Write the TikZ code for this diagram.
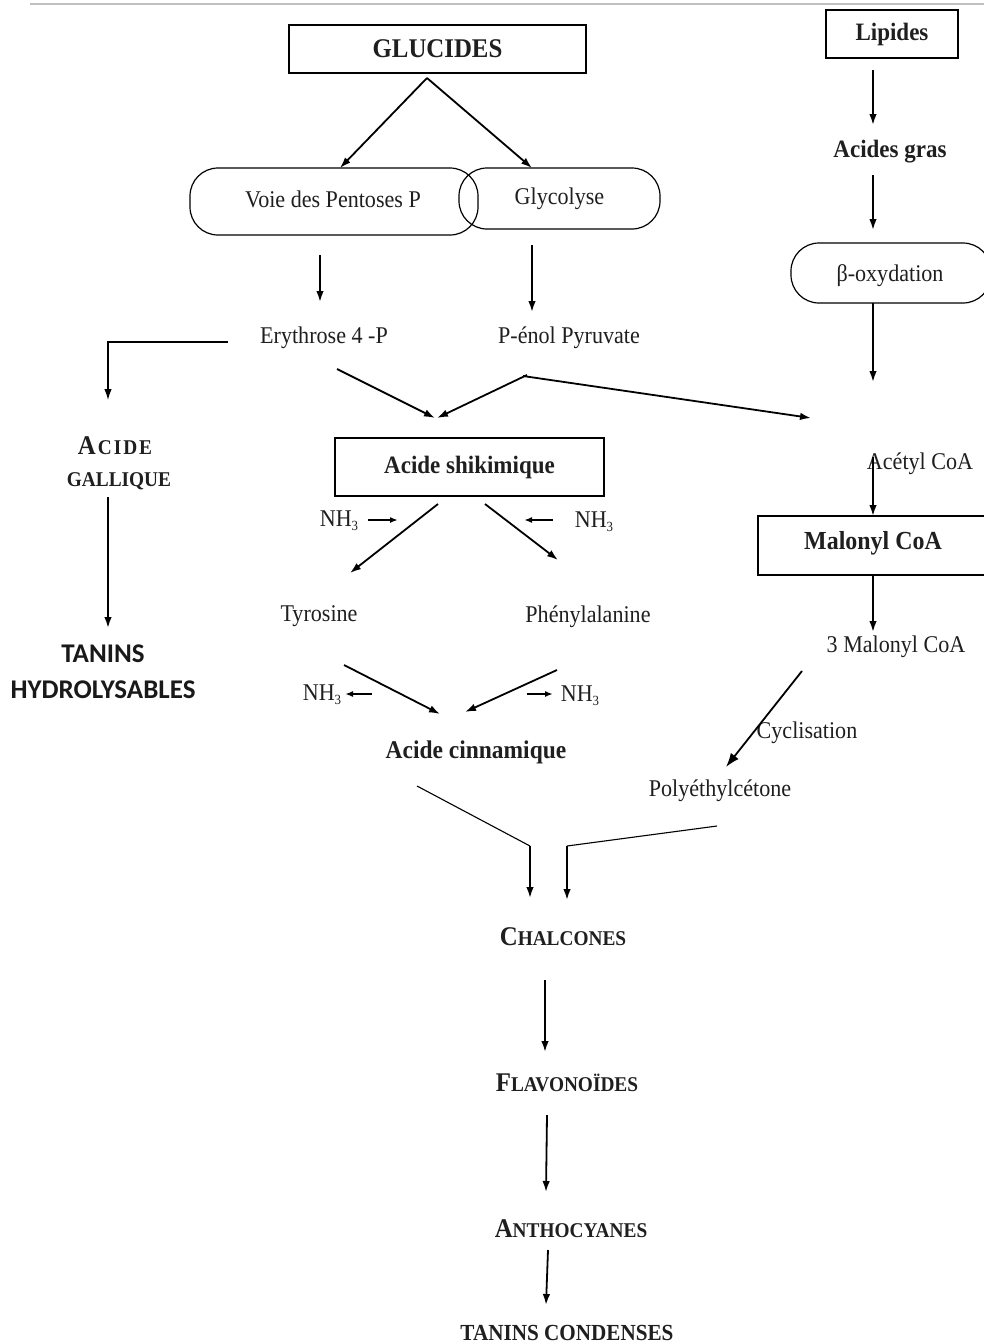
\documentclass[tikz,border=0pt]{standalone}
\usepackage{fontspec}
\setmainfont{Liberation Serif}[FakeStretch=0.92]
\newfontfamily\carl{Carlito}
\usetikzlibrary{arrows.meta,calc}
\newcommand{\fsc}[2]{{\fontsize{27}{30}\selectfont #1}{\fontsize{21}{24}\selectfont #2}}
\newcommand{\nhthree}{NH\raisebox{-4pt}{\fontsize{14}{14}\selectfont 3}}
\begin{document}
\begin{tikzpicture}[x=1pt,y=-1pt,
  txt/.style={font=\fontsize{24}{28}\selectfont, inner sep=0pt, text=black!88},
  btxt/.style={font=\fontsize{25}{29}\selectfont\bfseries, inner sep=0pt, text=black!88},
  sctxt/.style={font=\bfseries, inner sep=0pt, text=black!88},
  box/.style={draw, line width=1.8pt, inner sep=0pt},
  pill/.style={draw, line width=1.2pt, rounded corners=28pt, inner sep=0pt},
  arr/.style={-{Latex[length=11pt,width=7.5pt]}, line width=1.8pt},
  smallarr/.style={-{Latex[length=8pt,width=6pt]}, line width=1.7pt},
  thinline/.style={line width=1.1pt}]
\useasboundingbox (0,0) rectangle (984,1344);
\fill[white] (0,0) rectangle (984,1344);
\coordinate (tl) at (30,4);
\coordinate (tr) at (984,4);
\draw[black!25, line width=1.2pt] (tl) -- (tr);

% boxes
\node[box, line width=2.4pt, minimum width=297pt, minimum height=48pt, btxt, font=\fontsize{27}{30}\selectfont\bfseries] (glu) at (437.5,49) {GLUCIDES};
\node[pill, minimum width=288pt, minimum height=67pt] (voie) at (334,201.5) {};
\node[txt] at (333,199) {Voie des Pentoses P};
\node[pill, minimum width=201pt, minimum height=61pt, txt] (glyc) at (559.5,198.5) {Glycolyse};
\node[box, minimum width=132pt, minimum height=48pt, btxt] (lip) at (892,34) {Lipides};
\node[btxt] (ag) at (890,152) {Acides gras};
\node[pill, minimum width=200pt, minimum height=60pt] (beta) at (891,273) {};
\node[txt] at (890,276) {β-oxydation};
\node[txt] (ery) at (324,338) {Erythrose 4 -P};
\node[txt] (pep) at (569,338) {P-énol Pyruvate};
\node[sctxt, align=center, font=\bfseries\fontsize{21}{32}\selectfont] (gal) at (119,463) {\fsc{A}{\kern2pt C\kern2pt I\kern2pt D\kern2pt E}\hspace*{8pt}\\{\fontsize{21}{24}\selectfont GALLIQUE}};
\node[inner sep=0pt, align=center, font=\carl\bfseries\fontsize{27}{36}\selectfont, text=black!90] (tanh) at (103,672) {TANINS\\HYDROLYSABLES};
\node[box, minimum width=269pt, minimum height=58pt, btxt] (shik) at (469.5,467) {Acide shikimique};
\node[txt] (acet) at (920,464) {Acétyl CoA};
\node[box, minimum width=232pt, minimum height=59pt] (mal) at (874,545.5) {};
\node[btxt, font=\fontsize{26}{29}\selectfont\bfseries] at (873,543) {Malonyl CoA};
\node[txt] (nhA) at (339,521) {\nhthree};
\node[txt] (nhB) at (594,522) {\nhthree};
\node[txt] (tyr) at (319,616) {Tyrosine};
\node[txt] (phe) at (588,617) {Phénylalanine};
\node[txt] (nhC) at (322,695) {\nhthree};
\node[txt] (nhD) at (580,696) {\nhthree};
\node[txt] (mal3) at (896,647) {3 Malonyl CoA};
\node[btxt, font=\fontsize{25.5}{29}\selectfont\bfseries] (cinn) at (476,752) {Acide cinnamique};
\node[txt] (cycl) at (807,733) {Cyclisation};
\node[txt] (poly) at (720,791) {Polyéthylcétone};
\node[sctxt] (chal) at (563,937) {\fsc{C}{HALCONES}};
\node[sctxt] (flav) at (567,1083) {\fsc{F}{LAVONOÏDES}};
\node[sctxt] (anth) at (571,1229) {\fsc{A}{NTHOCYANES}};
\node[sctxt, font=\bfseries\fontsize{23}{26}\selectfont] (tc) at (567,1333) {TANINS CONDENSES};

% connectors
\draw[arr] ([shift={(-10.5,29)}]glu.center) -- ([shift={(6,-33.5)}]voie.center);
\draw[arr] ([shift={(-10.5,29)}]glu.center) -- ([shift={(-27.5,-30.5)}]glyc.center);
\draw[arr] ([shift={(-14,53.5)}]voie.center) -- ([shift={(-4,-36)}]ery.center);
\draw[arr] ([shift={(-27.5,46.5)}]glyc.center) -- ([shift={(-37,-26)}]pep.center);
\draw[arr, line width=1.3pt] ([shift={(-96,4)}]ery.center) -| ([shift={(-11,-63)}]gal.center);
\draw[arr] ([shift={(-11,34)}]gal.center) -- ([shift={(5,-44)}]tanh.center);
\draw[arr] ([shift={(13,31)}]ery.center) -- ([shift={(-34.5,-49)}]shik.center);
\draw[arr] ([shift={(-42,37)}]pep.center) -- ([shift={(-32.5,-49)}]shik.center);
\draw[arr] ([shift={(-46,38)}]pep.center) -- ([shift={(-109,-46)}]acet.center);
\draw[arr] ([shift={(-19,36)}]lip.center) -- ([shift={(-17,-27)}]ag.center);
\draw[arr] ([shift={(-17,23)}]ag.center) -- ([shift={(-18,-43)}]beta.center);
\draw[arr] ([shift={(-18,30)}]beta.center) -- ([shift={(-47,-82)}]acet.center);
\draw[arr] ([shift={(-47,-7)}]acet.center) -- ([shift={(-1,-29.5)}]mal.center);
\draw[arr] ([shift={(-1,29.5)}]mal.center) -- ([shift={(-23,-15)}]mal3.center);
\draw[arr] ([shift={(-31.5,37)}]shik.center) -- ([shift={(31,-43)}]tyr.center);
\draw[arr] ([shift={(15.5,37)}]shik.center) -- ([shift={(-30,-57)}]phe.center);
\draw[smallarr] ([shift={(29,-1)}]nhA.center) -- ([shift={(59,-1)}]nhA.center);
\draw[smallarr] ([shift={(-41,-2)}]nhB.center) -- ([shift={(-70,-2)}]nhB.center);
\draw[arr] ([shift={(25,49)}]tyr.center) -- ([shift={(-36,-38)}]cinn.center);
\draw[arr] ([shift={(-31,53)}]phe.center) -- ([shift={(-11,-40)}]cinn.center);
\draw[smallarr] ([shift={(50,-1)}]nhC.center) -- ([shift={(23,-1)}]nhC.center);
\draw[smallarr] ([shift={(-53,-2)}]nhD.center) -- ([shift={(-27,-2)}]nhD.center);
\draw[arr, -{Latex[length=14pt,width=10pt]}] ([shift={(-94,24)}]mal3.center) -- ([shift={(6,-24)}]poly.center);
\draw[thinline] ([shift={(-59,34)}]cinn.center) -- ([shift={(-33,-91)}]chal.center);
\draw[arr] ([shift={(-33,-91)}]chal.center) -- ([shift={(-33,-39)}]chal.center);
\draw[thinline] ([shift={(-3,35)}]poly.center) -- ([shift={(4,-91)}]chal.center);
\draw[arr] ([shift={(4,-91)}]chal.center) -- ([shift={(4,-37)}]chal.center);
\draw[arr] ([shift={(-18,43)}]chal.center) -- ([shift={(-22,-31)}]flav.center);
\draw[arr] ([shift={(-20,32)}]flav.center) -- ([shift={(-25,-37)}]anth.center);
\draw[arr] ([shift={(-23,21)}]anth.center) -- ([shift={(-21,-28)}]tc.center);
\end{tikzpicture}
\end{document}
